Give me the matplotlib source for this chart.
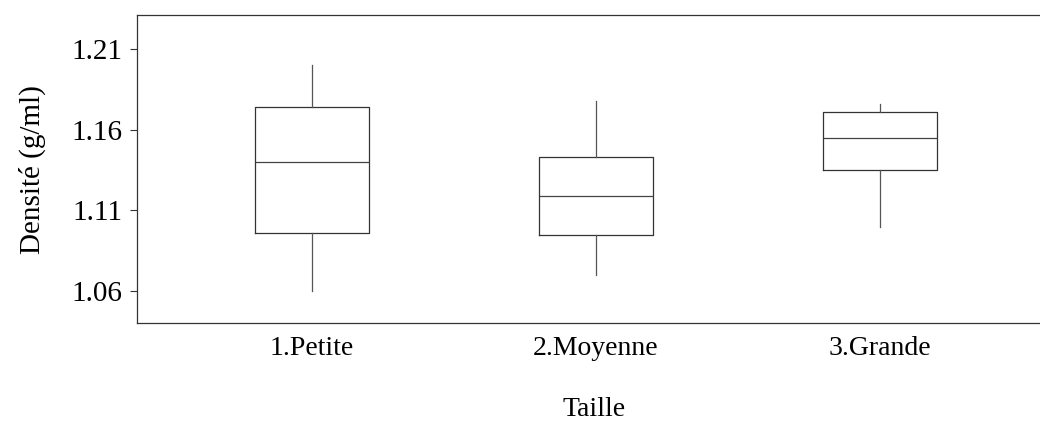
import matplotlib.pyplot as plt

# --- Data ---
categories = ["1.Petite", "2.Moyenne", "3.Grande"]
whisker_low = [1.060, 1.070, 1.100]
q1 = [1.096, 1.095, 1.135]
median = [1.140, 1.119, 1.155]
q3 = [1.174, 1.143, 1.171]
whisker_high = [1.200, 1.178, 1.176]
y_ticks = [1.06, 1.11, 1.16, 1.21]

plt.rcParams['font.family'] = ['Liberation Serif', 'DejaVu Serif']

fig = plt.figure(figsize=(10.4, 4.26), dpi=100)
# axes runs past the right edge, as in the reference
ax = fig.add_axes([0.132, 0.241, 0.878, 0.723])

stats = []
for i, name in enumerate(categories):
    stats.append({
        "label": name, "whislo": whisker_low[i], "q1": q1[i], "med": median[i],
        "q3": q3[i], "whishi": whisker_high[i], "fliers": [],
    })

line_col = "#333333"
ax.bxp(stats, positions=[1, 2, 3], widths=0.4, showcaps=False, showfliers=False,
       boxprops=dict(color=line_col, linewidth=0.9),
       whiskerprops=dict(color="#555555", linewidth=0.9),
       medianprops=dict(color="#444444", linewidth=0.9))

ax.set_xlim(0.386, 3.6)
ax.set_ylim(1.04, 1.231)
ax.set_yticks(y_ticks)
ax.set_yticklabels([f"{v:.2f}" for v in y_ticks])

ax.tick_params(axis='y', length=5, width=0.8, color=line_col, labelsize=21, pad=6)
ax.tick_params(axis='x', length=0, labelsize=20, pad=9)
for s in ax.spines.values():
    s.set_color(line_col)
    s.set_linewidth(0.9)

ax.set_xlabel("Taille", fontsize=20, labelpad=26)
ax.set_ylabel("Densité (g/ml)", fontsize=21, labelpad=18)

fig.savefig("out.png", dpi=100)
